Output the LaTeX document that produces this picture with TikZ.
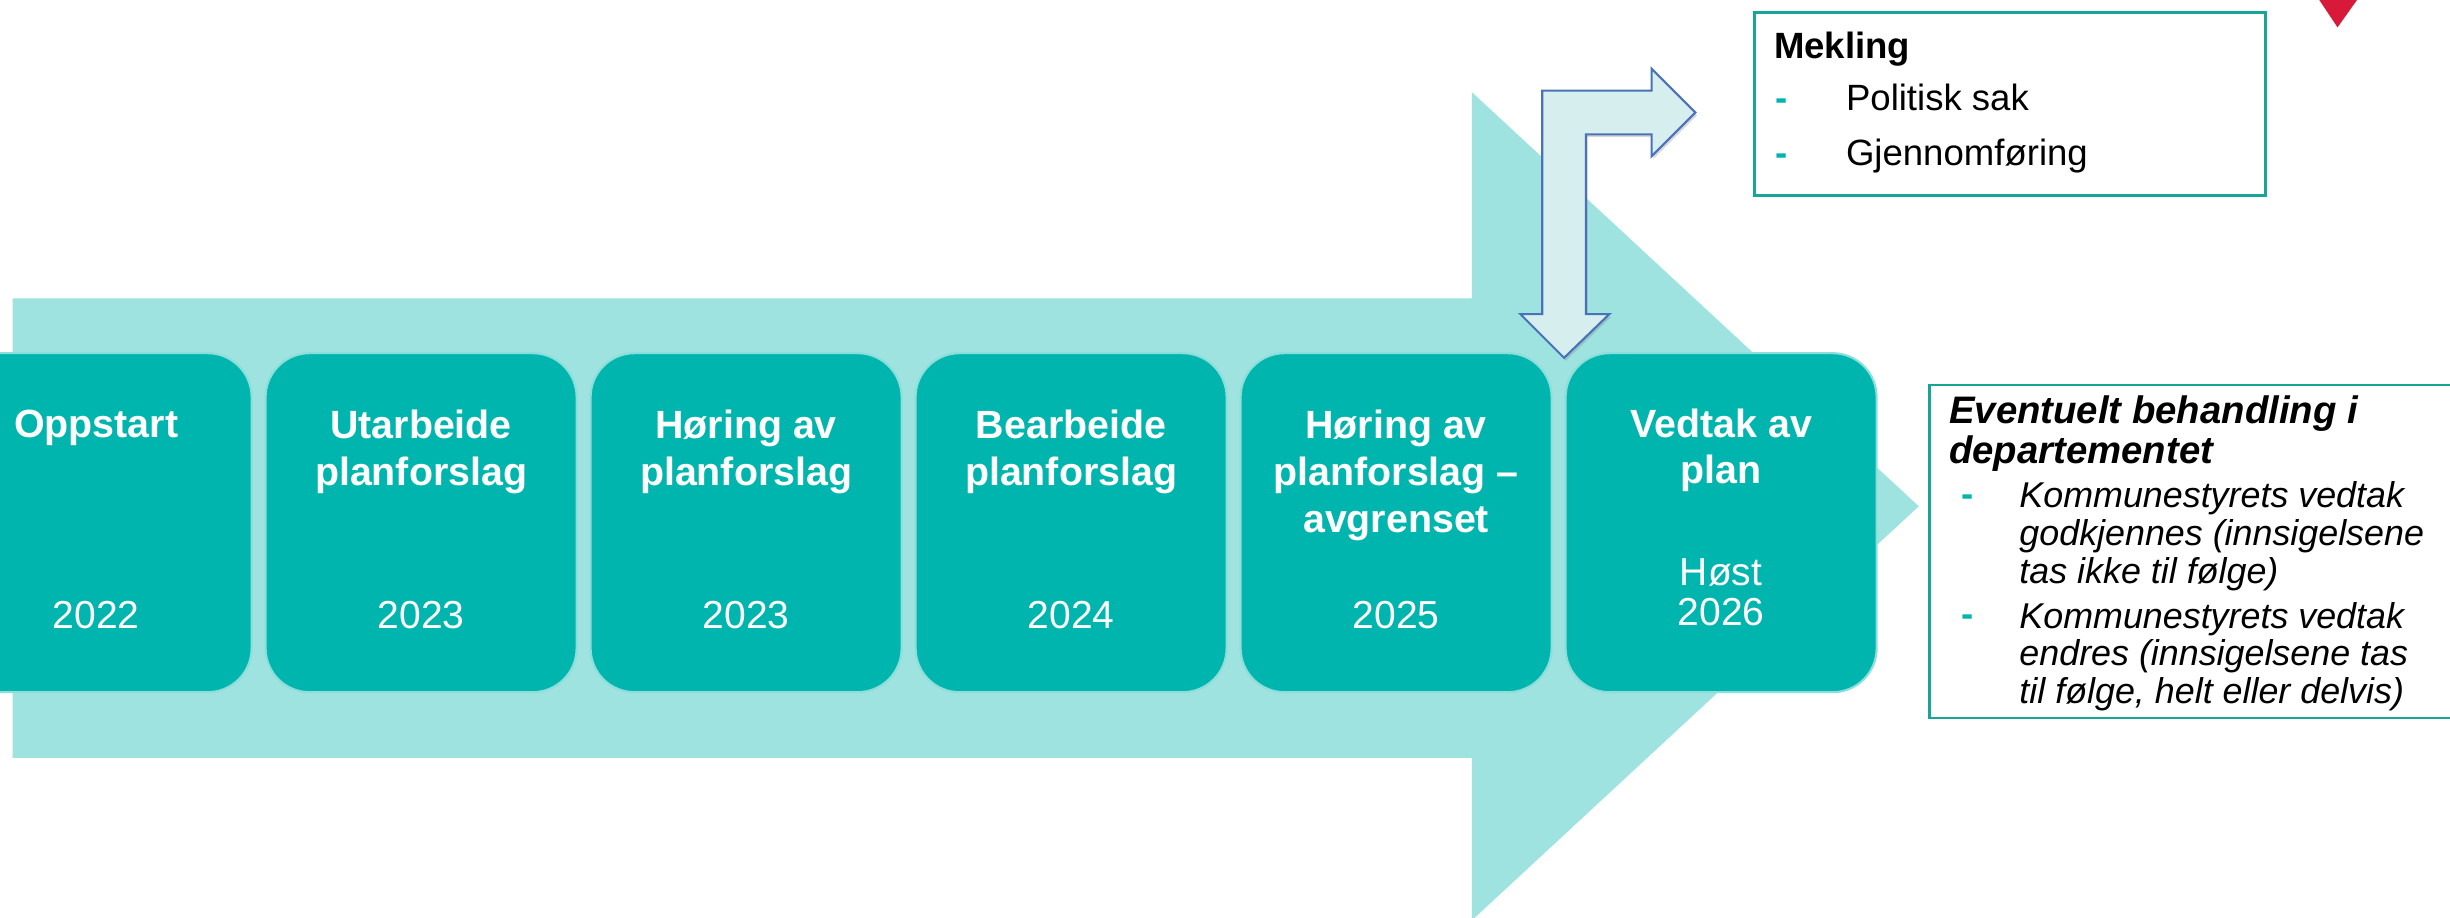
\documentclass[tikz,border=0pt]{standalone}
\usepackage{fontspec}
\setmainfont{Liberation Sans}
\usepackage{xcolor}
\usetikzlibrary{
    shapes,
    positioning,
    shadows
}
\definecolor{stepteal}{RGB}{0,181,174}
\definecolor{arrowteal}{RGB}{158,227,223}
\definecolor{noteteal}{RGB}{22,166,152}
\definecolor{bendfill}{RGB}{214,238,238}
\definecolor{bendblue}{RGB}{74,114,184}
\definecolor{markred}{RGB}{215,25,58}
\newcommand{\stepfont}{\fontsize{11.2pt}{13.3pt}\selectfont}
\newcommand{\notefont}{\fontsize{10.4pt}{10.4pt}\selectfont}
\newcommand{\deptfont}{\fontsize{10.2pt}{10.7pt}\selectfont}

\begin{document}
\begin{tikzpicture}[x=0.015625cm, y=-0.015625cm,
    step-box/.style={rectangle, fill=stepteal, draw=white!55!stepteal, line width=0.6pt,
                rounded corners=12.5pt, minimum width=3.11cm, minimum height=3.39cm},
    step-title/.style={text=white, font=\stepfont\bfseries, align=center, inner sep=0pt, anchor=north},
    step-year/.style={text=white, font=\fontsize{11.1pt}{11.4pt}\selectfont, align=center, inner sep=0pt, anchor=south},
    note-box/.style={rectangle, draw=noteteal, line width=0.8pt, fill=white, inner sep=0pt},
    note-text/.style={font=\notefont, align=left, inner sep=0pt},
    note-dash/.style={text=stepteal, font=\notefont\bfseries, inner sep=0pt, anchor=base west}]
    \useasboundingbox (0,0) rectangle (1568,587.5);
    \clip (0,0) rectangle (1568,587.5);
    \fill[white] (0,0) rectangle (1568,587.5);
    % big arrow behind the steps
    \fill[arrowteal] (8,191) -- (942,191) -- (942,59) -- (1228,324) -- (942,589) -- (942,485) -- (8,485) -- cycle;
    % steps
    \node[step-box] (oppstart) at (61.5,334.5) {};
    \node[step-box] (utarbeide) at (269.5,334.5) {};
    \node[step-box] (hoering) at (477.5,334.5) {};
    \node[step-box] (bearbeide) at (685.5,334.5) {};
    \node[step-box] (hoering-avgr) at (893.5,334.5) {};
    \node[step-box] (vedtak) at (1101.5,334.5) {};
    \node[step-title] (oppstart-title) at (61.5,262) {Oppstart};
    \node[step-title] (utarbeide-title) at (269.5,262) {Utarbeide\\planforslag};
    \node[step-title] (hoering-title) at (477.5,262) {Høring av\\planforslag};
    \node[step-title] (bearbeide-title) at (685.5,262) {Bearbeide\\planforslag};
    \node[step-title] (hoering-avgr-title) at (893.5,262) {Høring av\\planforslag –\\avgrenset};
    \node[step-title] (vedtak-title) at (1101.5,261) {Vedtak av\\plan};
    \node[step-year] (oppstart-year) at (61.5,403) {2022};
    \node[step-year] (utarbeide-year) at (269.5,403) {2023};
    \node[step-year] (hoering-year) at (477.5,403) {2023};
    \node[step-year] (bearbeide-year) at (685.5,403) {2024};
    \node[step-year] (hoering-avgr-year) at (893.5,403) {2025};
    \node[step-year] (vedtak-year) at (1101.5,401) {Høst\\2026};
    % mekling
    \node[note-box, minimum width=5.11cm, minimum height=1.83cm] (mekling-box) at (1286.5,66.5) {};
    \node[note-text, font=\notefont\bfseries, anchor=base west] (mekling) at (1135,37.5) {Mekling};
    \node[note-dash] (mekling-dash1) at (1136,71) {-};
    \node[note-text, anchor=base west] (politisk) at (1181,71) {Politisk sak};
    \node[note-dash] (mekling-dash2) at (1136,106) {-};
    \node[note-text, anchor=base west] (gjennomf) at (1181,106) {Gjennomføring};
    % bent arrow down to vedtak and out to mekling
    \filldraw[fill=bendfill, draw=bendblue, line width=0.6pt, line join=miter,
        drop shadow={opacity=0.3, shadow xshift=0.5pt, shadow yshift=-0.8pt}]
        (987,201) -- (987,58) -- (1057,58) -- (1057,44) -- (1085,72) -- (1057,100) -- (1057,86)
        -- (1015,86) -- (1015,201) -- (1030,201) -- (1001,229) -- (973,201) -- cycle;
    % departementet
    \node[note-box, minimum width=5.31cm, minimum height=3.33cm] (dept-box) at (1405,353) {};
    \node[note-text, font=\fontsize{10.9pt}{11.2pt}\selectfont\bfseries\itshape, anchor=north west] (dept) at (1247,253) {Eventuelt behandling i\\departementet};
    \node[note-dash] (dept-dash1) at (1255,324) {-};
    \node[note-text, font=\deptfont\itshape, anchor=north west] (godkjennes) at (1292,308) {Kommunestyrets vedtak\\godkjennes (innsigelsene\\tas ikke til følge)};
    \node[note-dash] (dept-dash2) at (1255,401) {-};
    \node[note-text, font=\deptfont\itshape, anchor=north west] (endres) at (1292,385) {Kommunestyrets vedtak\\endres (innsigelsene tas\\til følge, helt eller delvis)};
    % red mark in the corner
    \fill[markred] (1481,-5) -- (1512,-5) -- (1496,17.5) -- cycle;
\end{tikzpicture}
\end{document}
